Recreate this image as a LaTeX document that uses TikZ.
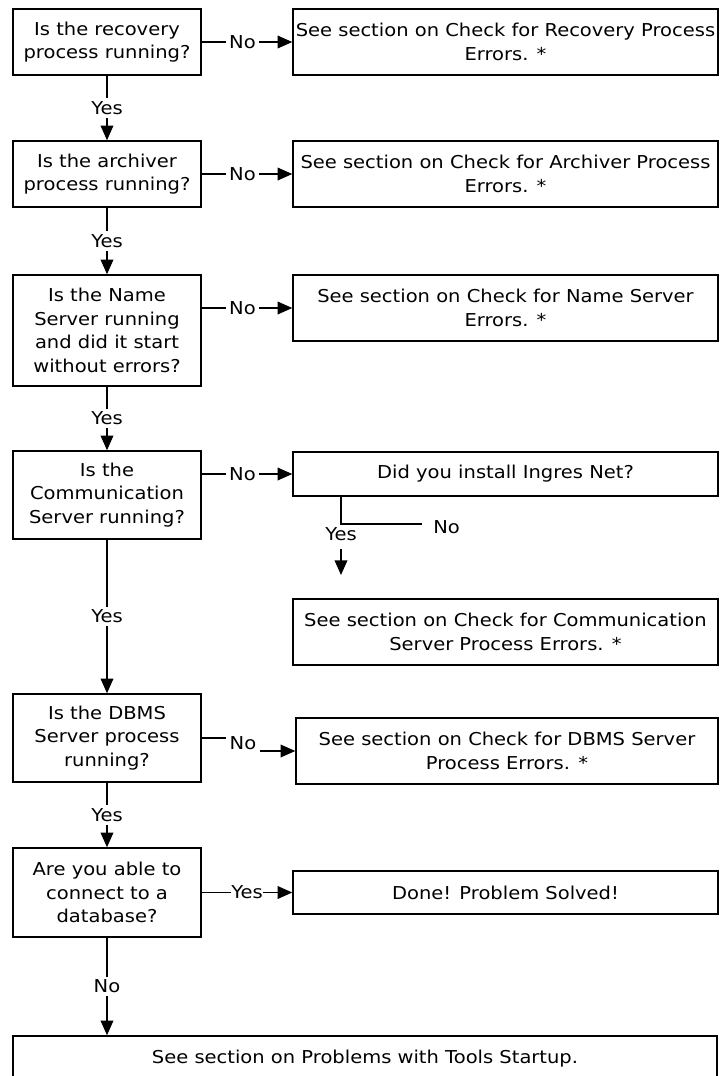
\documentclass[tikz,border=0pt]{standalone}
\usepackage{fontspec}
\setmainfont{DejaVu Sans}[FakeStretch=1.1]
\usetikzlibrary{arrows.meta}

\begin{document}
\begin{tikzpicture}[x=0.75pt, y=-0.75pt, line width=1.1pt,
	every node/.style={font=\fontsize{13.3}{17.6}\selectfont},
	box/.style={draw, align=center, inner sep=1pt, minimum width=141pt},
	wide/.style={box, minimum width=318.75pt},
	lbl/.style={fill=white, inner sep=2.5pt},
	arr/.style={-{Triangle[length=11pt, width=9.5pt]}}]
	\useasboundingbox (0, 0) rectangle (719, 1076);
	
	% questions on the left
	\node[box, minimum height=49.5pt] (rec) at (107, 42) {Is the recovery\\process running?};
	\node[box, minimum height=49.5pt] (arc) at (107, 174) {Is the archiver\\process running?};
	\node[box, minimum height=83.25pt] (nms) at (107, 330.5) {Is the Name\\Server running\\and did it start\\without errors?};
	\node[box, minimum height=66pt] (com) at (107, 495) {Is the\\Communication\\Server running?};
	\node[box, minimum height=66pt] (dbms) at (107, 738) {Is the DBMS\\Server process\\running?};
	\node[box, minimum height=66.75pt] (conn) at (107, 892.5) {Are you able to\\connect to a\\database?};
	\node[box, minimum width=528pt, minimum height=34.5pt] (tools) at (365, 1059) {See section on Problems with Tools Startup.};
	
	% answers on the right
	\node[wide, minimum height=49.5pt] (recerr) at (505.5, 42) {See section on Check for Recovery Process\\Errors. *};
	\node[wide, minimum height=49.5pt] (arcerr) at (505.5, 174) {See section on Check for Archiver Process\\Errors. *};
	\node[wide, minimum height=49.5pt] (nmserr) at (505.5, 308) {See section on Check for Name Server\\Errors. *};
	\node[wide, minimum height=33pt] (net) at (505.5, 474) {Did you install Ingres Net?};
	\node[wide, minimum height=49.5pt] (comerr) at (505.5, 632) {See section on Check for Communication\\Server Process Errors. *};
	\node[wide, minimum width=316.5pt, minimum height=49.5pt] (dbmserr) at (507, 751) {See section on Check for DBMS Server\\Process Errors. *};
	\node[wide, minimum height=32.25pt] (done) at (505.5, 892.5) {Done! Problem Solved!};
	
	% down the left column
	\draw[arr] (rec) -- node[lbl] (y1) {Yes} (arc);
	\draw[arr] (arc) -- node[lbl] (y2) {Yes} (nms);
	\draw[arr] (nms) -- node[lbl] (y3) {Yes} (com);
	\draw[arr] (com) -- node[lbl] (y4) {Yes} (dbms);
	\draw[arr] (dbms) -- node[lbl] (y5) {Yes} (conn);
	\draw[arr] (conn.south) -- node[lbl] (n6) {No} (tools.north -| conn.south);
	
	% across to the right
	\draw[arr] (rec) -- node[lbl, pos=0.45] (n1) {No} (recerr);
	\draw[arr] (arc) -- node[lbl, pos=0.45] (n2) {No} (arcerr);
	\draw[arr] (nmserr.west -| nms.east) -- node[lbl, pos=0.45] (n3) {No} (nmserr.west);
	\draw[arr] (net.west -| com.east) -- node[lbl, pos=0.45] (n4) {No} (net.west);
	\node[inner sep=2.5pt] (n5) at (243, 743) {No};
	\draw (dbms.east) -- (dbms.east -| n5.west);
	\draw[arr] (dbmserr.west -| n5.east) -- (dbmserr.west);
	\draw[arr] (conn) -- node[lbl, inner sep=0.5pt] (y6) {Yes} (done);
	
	% Ingres Net branch
	\coordinate (brk) at (341, 524);
	\coordinate (nend) at (422, 524);
	\draw (net.south -| brk) -- (brk) -- (nend);
	\node[anchor=west, inner sep=2pt] (nn) at (430, 527) {No};
	\node (yn) at (341, 534) {Yes};
	\coordinate (ya) at (341, 549);
	\coordinate (yb) at (341, 575);
	\draw[arr] (ya) -- (yb);
\end{tikzpicture}
\end{document}
